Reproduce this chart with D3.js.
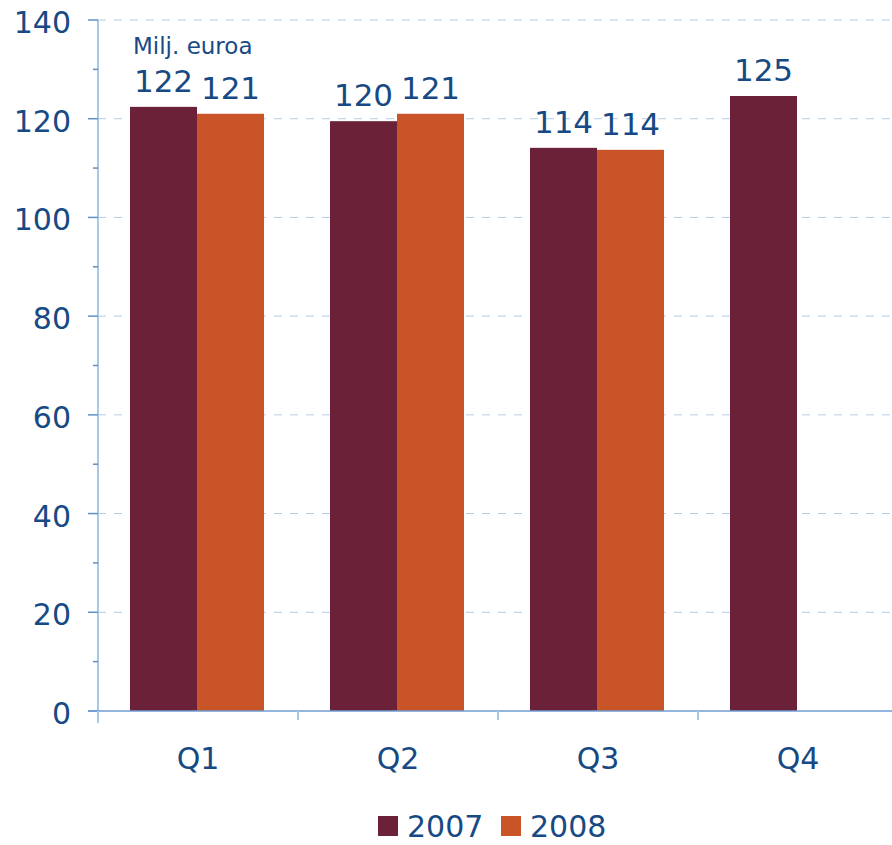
<!DOCTYPE html>
<html>
<head>
<meta charset="utf-8">
<script src="https://d3js.org/d3.v7.min.js"></script>
<style>
  body { margin: 0; background: #fff; }
  text { font-family: "DejaVu Sans", Verdana, sans-serif; fill: #174a84; }
</style>
</head>
<body>
<div id="chart"></div>
<script>
// Data
var quarters = ["Q1", "Q2", "Q3", "Q4"];
var years = ["2007", "2008"];
var values2007 = [122.4, 119.5, 114.1, 124.6];
var values2008 = [121.0, 121.0, 113.7, null];
var labels2007 = ["122", "120", "114", "125"];
var labels2008 = ["121", "121", "114", ""];
var yTicks = [0, 20, 40, 60, 80, 100, 120, 140];
var yMinorTicks = [10, 30, 50, 70, 90, 110, 130];
var colors = ["#6b2238", "#c85428"];

var width = 892, height = 845;
var margin = { top: 20, right: 0, bottom: 134, left: 98 };
var innerW = width - margin.left - margin.right;
var innerH = height - margin.top - margin.bottom;

var svg = d3.select("#chart").append("svg")
    .attr("width", width)
    .attr("height", height);

var g = svg.append("g")
    .attr("transform", "translate(" + margin.left + "," + margin.top + ")");

// scales
var x = d3.scaleBand().domain(quarters).range([0, 800]).paddingInner(0).paddingOuter(0);
var xs = d3.scaleBand().domain(years).range([32, 166]);
var y = d3.scaleLinear().domain([0, 140]).range([innerH, 0]);

// dashed gridlines
g.selectAll(".grid")
  .data(yTicks.filter(function (d) { return d > 0; }))
  .enter().append("line")
  .attr("x1", 0).attr("x2", innerW)
  .attr("y1", function (d) { return y(d); })
  .attr("y2", function (d) { return y(d); })
  .attr("stroke", "#b3cde8")
  .attr("stroke-width", 1)
  .attr("stroke-dasharray", "8,8");

// bars
var series = [values2007, values2008];
var labelSets = [labels2007, labels2008];
series.forEach(function (vals, si) {
  var rows = quarters.map(function (q, i) { return { q: q, v: vals[i], label: labelSets[si][i] }; })
    .filter(function (d) { return d.v != null; });

  g.selectAll(".bar" + si)
    .data(rows)
    .enter().append("rect")
    .attr("x", function (d) { return x(d.q) + xs(years[si]); })
    .attr("width", xs.bandwidth())
    .attr("y", function (d) { return y(d.v); })
    .attr("height", function (d) { return innerH - y(d.v); })
    .attr("fill", colors[si]);

  g.selectAll(".lab" + si)
    .data(rows)
    .enter().append("text")
    .attr("x", function (d) { return x(d.q) + xs(years[si]) + xs.bandwidth() / 2; })
    .attr("y", function (d) { return y(d.v) - 15; })
    .attr("text-anchor", "middle")
    .style("font-size", "31px")
    .text(function (d) { return d.label; });
});

// y axis line
g.append("line")
  .attr("x1", 0).attr("x2", 0)
  .attr("y1", 0).attr("y2", innerH + 12)
  .attr("stroke", "#a9c8e6").attr("stroke-width", 2);

// y ticks
g.selectAll(".ytick")
  .data(yTicks)
  .enter().append("line")
  .attr("x1", -10).attr("x2", 0)
  .attr("y1", function (d) { return y(d); })
  .attr("y2", function (d) { return y(d); })
  .attr("stroke", "#5e8fc8").attr("stroke-width", 1.5);

g.selectAll(".yminor")
  .data(yMinorTicks)
  .enter().append("line")
  .attr("x1", -5).attr("x2", 0)
  .attr("y1", function (d) { return y(d); })
  .attr("y2", function (d) { return y(d); })
  .attr("stroke", "#5e8fc8").attr("stroke-width", 1.5);

g.selectAll(".ylab")
  .data(yTicks)
  .enter().append("text")
  .attr("x", -27)
  .attr("y", function (d) { return y(d) + 13; })
  .attr("text-anchor", "end")
  .style("font-size", "30px")
  .text(function (d) { return d; });

// x baseline
g.append("line")
  .attr("x1", -10).attr("x2", innerW)
  .attr("y1", innerH).attr("y2", innerH)
  .attr("stroke", "#6f9bd0").attr("stroke-width", 1.5);

// category ticks
g.selectAll(".xtick")
  .data(quarters.concat(["end"]))
  .enter().append("line")
  .attr("x1", function (d, i) { return i * x.bandwidth(); })
  .attr("x2", function (d, i) { return i * x.bandwidth(); })
  .attr("y1", innerH).attr("y2", innerH + 9)
  .attr("stroke", "#a9c8e6").attr("stroke-width", 2);

g.selectAll(".xlab")
  .data(quarters)
  .enter().append("text")
  .attr("x", function (d) { return x(d) + x.bandwidth() / 2; })
  .attr("y", innerH + 58)
  .attr("text-anchor", "middle")
  .style("font-size", "30px")
  .text(function (d) { return d; });

// unit label
svg.append("text")
  .attr("x", 133).attr("y", 54)
  .style("font-size", "23px")
  .text("Milj. euroa");

// legend
var legend = svg.append("g").attr("transform", "translate(378,816)");
var legX = [0, 123];
years.forEach(function (yr, i) {
  legend.append("rect")
    .attr("x", legX[i]).attr("y", 0)
    .attr("width", 20).attr("height", 20)
    .attr("fill", colors[i]);
  legend.append("text")
    .attr("x", legX[i] + 29).attr("y", 21)
    .style("font-size", "30px")
    .text(yr);
});
</script>
</body>
</html>
